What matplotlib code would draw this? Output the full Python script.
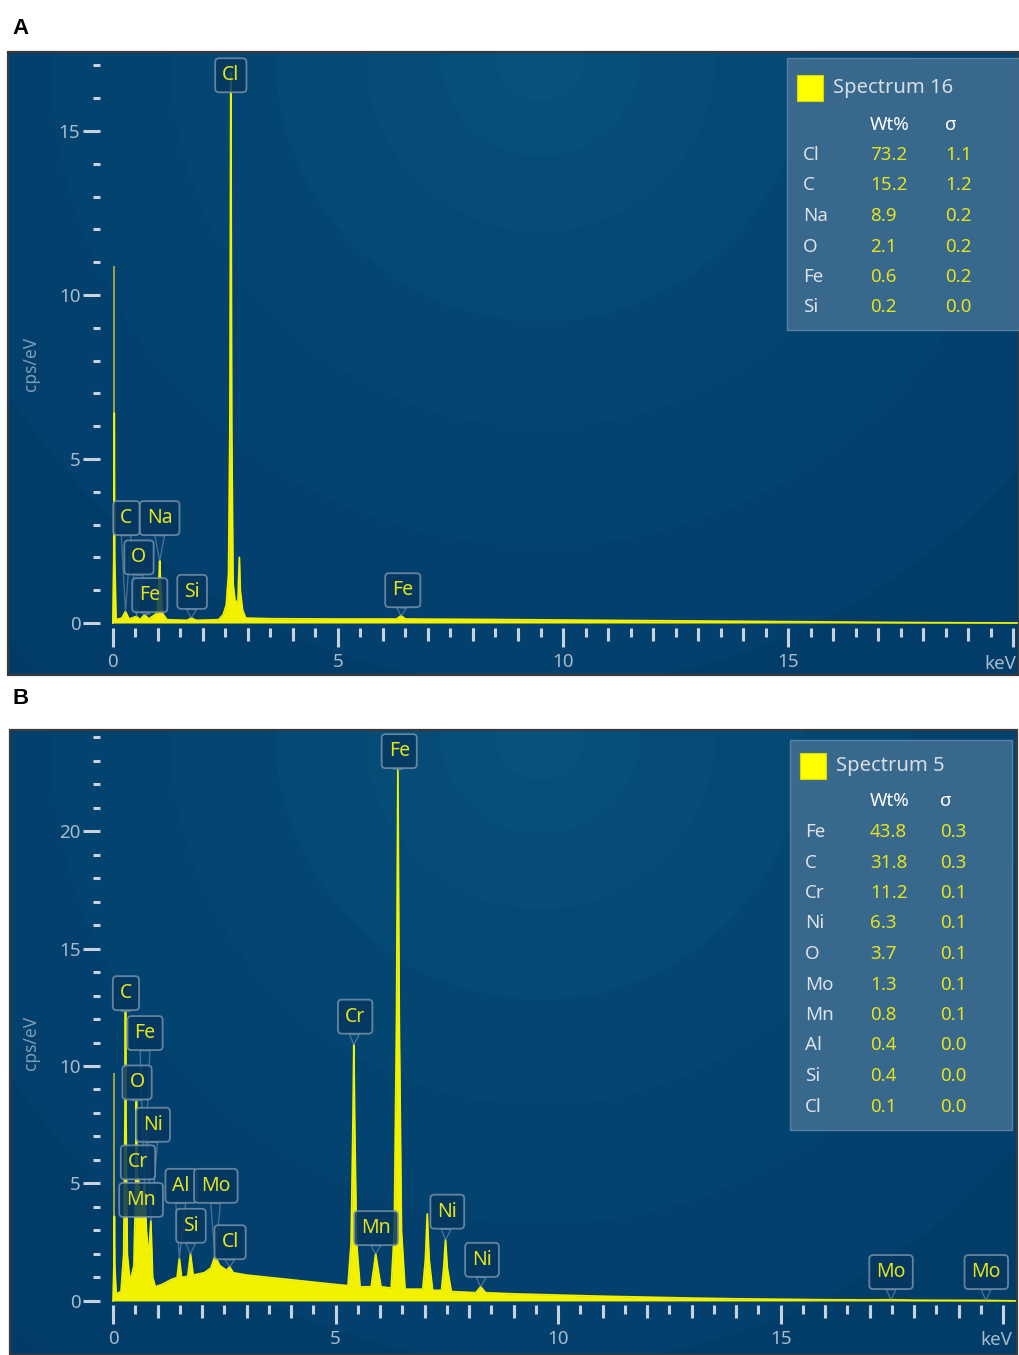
"""
EDS spectra of the two samples (panel A: Spectrum 16, panel B: Spectrum 5).
"""

import numpy as np
import matplotlib
matplotlib.use("Agg")  # no display
import matplotlib.pyplot as plt
from matplotlib.colors import to_rgb
from matplotlib.patches import Rectangle
from matplotlib.ticker import FixedLocator

plt.rcParams["font.family"] = ["Noto Sans", "DejaVu Sans"]

FIG_W, FIG_H = 1019, 1355

# ---------------------------------------------------------------------------
# Panel A data (Spectrum 16)
# ---------------------------------------------------------------------------
spec_a_kev = [0.00, 0.02, 0.03, 0.04, 0.07, 0.20, 0.28, 0.36, 0.525, 0.60,
              0.705, 0.80, 0.98, 1.02, 1.04, 1.06, 1.10, 1.20, 1.65, 1.74,
              1.85, 2.35, 2.45, 2.52, 2.57, 2.60, 2.62, 2.64, 2.67, 2.72,
              2.78, 2.81, 2.83, 2.88, 2.95, 3.50, 5.00, 6.30, 6.40, 6.50,
              8.00, 10.0, 12.0, 14.0, 16.0, 18.0, 20.2]
spec_a_cps = [0.00, 2.00, 6.40, 2.00, 0.10, 0.15, 0.35, 0.12, 0.20, 0.10,
              0.25, 0.12, 0.30, 1.20, 1.90, 1.20, 0.30, 0.10, 0.08, 0.15,
              0.08, 0.10, 0.25, 0.55, 1.50, 6.00, 16.8, 6.00, 1.20, 0.60,
              0.70, 2.00, 1.00, 0.40, 0.15, 0.13, 0.12, 0.12, 0.22, 0.12,
              0.11, 0.09, 0.07, 0.05, 0.03, 0.01, 0.00]
noise_a_kev = 0.03
noise_a_cps = 10.9

labels_a_el = ["Cl", "C", "Na", "O", "Fe", "Si", "Fe"]
labels_a_kev = [2.62, 0.28, 1.04, 0.525, 0.705, 1.74, 6.40]   # line energy
labels_a_x = [2.62, 0.30, 1.04, 0.58, 0.82, 1.76, 6.44]        # box centre
labels_a_y = [16.7, 3.2, 3.2, 2.0, 0.85, 0.95, 1.0]

quant_a_title = "Spectrum 16"
quant_a_el = ["Cl", "C", "Na", "O", "Fe", "Si"]
quant_a_wt = ["73.2", "15.2", "8.9", "2.1", "0.6", "0.2"]
quant_a_sigma = ["1.1", "1.2", "0.2", "0.2", "0.2", "0.0"]

# ---------------------------------------------------------------------------
# Panel B data (Spectrum 5)
# ---------------------------------------------------------------------------
spec_b_kev = [0.00, 0.02, 0.03, 0.04, 0.07, 0.18, 0.24, 0.27, 0.28, 0.29,
              0.32, 0.38, 0.47, 0.51, 0.525, 0.545, 0.57, 0.60, 0.64, 0.67,
              0.705, 0.75, 0.80, 0.85, 0.89, 0.95, 1.10, 1.30, 1.44, 1.49,
              1.54, 1.68, 1.74, 1.80, 2.05, 2.20, 2.29, 2.40, 2.55, 2.62,
              2.70, 3.00, 3.50, 4.00, 4.50, 5.00, 5.28, 5.35, 5.39, 5.41,
              5.43, 5.47, 5.55, 5.80, 5.86, 5.90, 5.95, 6.02, 6.25, 6.32,
              6.37, 6.40, 6.43, 6.48, 6.56, 6.96, 7.02, 7.06, 7.10, 7.18,
              7.38, 7.43, 7.47, 7.51, 7.60, 8.15, 8.26, 8.37, 9.00, 10.0,
              11.0, 12.0, 13.0, 14.0, 15.0, 16.0, 17.0, 17.48, 18.0, 19.6,
              20.3]
spec_b_cps = [0.00, 1.50, 3.60, 1.50, 0.30, 0.40, 2.00, 8.00, 12.3, 8.00,
              2.00, 0.80, 1.50, 5.00, 8.50, 4.50, 5.20, 3.50, 4.40, 3.80,
              5.00, 3.00, 1.80, 3.40, 1.00, 0.60, 0.70, 0.90, 1.00, 1.80,
              1.00, 1.05, 2.00, 1.10, 1.20, 1.40, 1.90, 1.50, 1.30, 1.45,
              1.20, 1.10, 1.00, 0.90, 0.80, 0.70, 0.65, 2.50, 7.50, 10.9,
              7.50, 2.50, 0.60, 0.60, 1.40, 2.00, 1.40, 0.60, 0.55, 3.00,
              12.0, 22.6, 12.0, 3.00, 0.50, 0.50, 1.80, 3.70, 1.80, 0.45,
              0.45, 1.40, 2.60, 1.40, 0.40, 0.35, 0.60, 0.35, 0.30, 0.25,
              0.20, 0.16, 0.12, 0.09, 0.07, 0.05, 0.04, 0.05, 0.03, 0.02,
              0.00]
noise_b_kev = 0.03
noise_b_cps = 9.7

labels_b_el = ["Fe", "C", "Fe", "O", "Ni", "Cr", "Mn", "Al", "Mo", "Si",
               "Cl", "Cr", "Mn", "Ni", "Ni", "Mo", "Mo"]
labels_b_kev = [6.40, 0.28, 0.705, 0.525, 0.85, 0.57, 0.64, 1.49, 2.29, 1.74,
                2.62, 5.41, 5.90, 7.47, 8.26, 17.48, 19.61]
labels_b_x = [6.43, 0.29, 0.72, 0.54, 0.90, 0.56, 0.63, 1.53, 2.31, 1.75,
              2.63, 5.44, 5.91, 7.51, 8.29, 17.48, 19.62]
labels_b_y = [23.4, 13.1, 11.4, 9.3, 7.5, 5.9, 4.3, 4.9, 4.9, 3.2,
              2.5, 12.1, 3.1, 3.8, 1.75, 1.23, 1.23]

quant_b_title = "Spectrum 5"
quant_b_el = ["Fe", "C", "Cr", "Ni", "O", "Mo", "Mn", "Al", "Si", "Cl"]
quant_b_wt = ["43.8", "31.8", "11.2", "6.3", "3.7", "1.3", "0.8", "0.4", "0.4", "0.1"]
quant_b_sigma = ["0.3", "0.3", "0.1", "0.1", "0.1", "0.1", "0.1", "0.0", "0.0", "0.0"]

# ---------------------------------------------------------------------------
# Styling
# ---------------------------------------------------------------------------
YELLOW = "#f2f200"
TEXT_YELLOW = "#e4e41c"
TICK_COLOR = "#c6d3de"
TICKLABEL_COLOR = "#a7bbcb"
BG_INNER = "#07527d"
BG_OUTER = "#023b68"


def fx(px):
    return px / FIG_W


def fy(py):
    return 1 - py / FIG_H


def radial_background(ax, w_px, h_px, cx, cy, xlim, ylim):
    """Faint banded radial glow like the instrument software background."""
    yy, xx = np.mgrid[0:h_px, 0:w_px]
    r = np.hypot(xx - cx, yy - cy)
    radii = [45, 100, 175, 265, 370, 490, 630, 790]
    t = np.digitize(r, radii) / len(radii)
    inner = np.array(to_rgb(BG_INNER))
    outer = np.array(to_rgb(BG_OUTER))
    img = inner[None, None, :] * (1 - t[..., None]) + outer[None, None, :] * t[..., None]
    ax.imshow(img, extent=(xlim[0], xlim[1], ylim[0], ylim[1]), aspect="auto",
              zorder=0, interpolation="bilinear")


def draw_panel(fig, box_px, xlim, ylim, ystep_max, kev, cps, noise, labels, quant,
               legend_px, kev_px, letter, letter_py):
    x0, y0, x1, y1 = box_px
    ax = fig.add_axes([fx(x0), fy(y1), fx(x1) - fx(x0), (y1 - y0) / FIG_H])
    w_px, h_px = x1 - x0, y1 - y0
    radial_background(ax, w_px, h_px, 540 - x0, 4, xlim, ylim)
    ax.set_xlim(*xlim)
    ax.set_ylim(*ylim)

    # spectrum
    ax.vlines(noise[0], 0, noise[1], color="#a3a33c", lw=1.4, zorder=2)
    ax.fill_between(kev, cps, 0, color=YELLOW, lw=0, zorder=3)
    ax.plot(kev, cps, color=YELLOW, lw=1.3, zorder=3)

    # peak labels with leader wedges
    els, lkev, lx, ly = labels
    for el, e, x, y in zip(els, lkev, lx, ly):
        top = np.interp(e, kev, cps)
        ax.annotate(el, xy=(e, top), xytext=(x, y), ha="center", va="center",
                    fontsize=14, color=TEXT_YELLOW, zorder=5,
                    bbox=dict(boxstyle="round,pad=0.36,rounding_size=0.2",
                              fc="#06375f", ec="#7590a8", lw=1.3, alpha=0.85),
                    arrowprops=dict(arrowstyle="wedge,tail_width=0.5", fc="none",
                                    ec="#7590a8", lw=0.9, alpha=0.65,
                                    shrinkA=0, shrinkB=0))

    # ticks hang off hidden spines at x = -0.29 keV and y = -0.16 cps/eV
    ax.spines["left"].set_position(("data", -0.29))
    ax.spines["bottom"].set_position(("data", -0.16))
    for s in ("left", "bottom"):
        ax.spines[s].set_color("none")
    for s in ("top", "right"):
        ax.spines[s].set_visible(False)

    ax.yaxis.set_major_locator(FixedLocator(np.arange(0, ystep_max + 1, 5)))
    ax.yaxis.set_minor_locator(FixedLocator(np.arange(0, ystep_max + 1, 1)))
    ax.tick_params(axis="y", which="major", direction="out", length=12, width=2.2,
                   color=TICK_COLOR, labelsize=13.5, labelcolor=TICKLABEL_COLOR, pad=2)
    ax.tick_params(axis="y", which="minor", direction="out", length=5, width=2.2,
                   color=TICK_COLOR)

    ax.xaxis.set_major_locator(FixedLocator([0, 5, 10, 15, 20]))
    ax.xaxis.set_minor_locator(FixedLocator(np.arange(0, 20.01, 0.5)))
    ax.set_xticklabels(["0", "5", "10", "15", ""])
    ax.tick_params(axis="x", which="major", direction="out", length=14, width=2.2,
                   color=TICK_COLOR, labelsize=13.5, labelcolor=TICKLABEL_COLOR, pad=4)
    ax.tick_params(axis="x", which="minor", direction="out", length=6.5, width=2.2,
                   color=TICK_COLOR)

    # integer keV ticks are a bit longer than the half-keV ones
    loc = (-0.16 - ylim[0]) / (ylim[1] - ylim[0])
    sec = ax.secondary_xaxis(loc)
    sec.set_xticks([v for v in range(1, 20) if v % 5])
    sec.set_xticklabels([])
    sec.tick_params(axis="x", direction="out", length=9.5, width=2.2, color=TICK_COLOR)
    for s in sec.spines.values():
        s.set_visible(False)

    ax.set_ylabel("cps/eV", fontsize=12.5, color="#7d9cb5")
    ax.yaxis.set_label_coords((40 - x0) / w_px, 0.5)

    # frame
    ax.add_patch(Rectangle((0, 0), 1, 1, transform=ax.transAxes, fill=False,
                           ec="#3a3a3a", lw=1.6, zorder=6, clip_on=False))

    # keV unit at the end of the axis
    fig.text(fx(kev_px[0]), fy(kev_px[1]), "keV", fontsize=13.5,
             color=TICKLABEL_COLOR, ha="right", va="center")

    # quantification table
    title, q_el, q_wt, q_sig = quant
    lx0, ly0, lx1, ly1, name_x, wt_x, sig_x, title_y, head_y, row0_y, row_dy = legend_px
    fig.add_artist(Rectangle((fx(lx0), fy(ly1)), fx(lx1) - fx(lx0), (ly1 - ly0) / FIG_H,
                             transform=fig.transFigure, fc="#3d6b8f", ec="#5b84a4",
                             lw=1.0, alpha=0.95, zorder=7))
    fig.add_artist(Rectangle((fx(lx0 + 10), fy(title_y + 13)), 26 / FIG_W, 26 / FIG_H,
                             transform=fig.transFigure, fc="#ffff00", ec="#d8d800",
                             lw=0.8, zorder=8))
    fig.text(fx(lx0 + 46), fy(title_y), title, fontsize=14.5, color="#d6dee6",
             ha="left", va="center", zorder=8)
    fig.text(fx(wt_x), fy(head_y), "Wt%", fontsize=13.5, color="white",
             fontweight="bold", ha="left", va="center", zorder=8)
    fig.text(fx(sig_x), fy(head_y), "σ", fontsize=13.5, color="white",
             fontweight="bold", ha="left", va="center", zorder=8)
    for i, (el, wt, sg) in enumerate(zip(q_el, q_wt, q_sig)):
        yy = row0_y + i * row_dy
        fig.text(fx(name_x), fy(yy), el, fontsize=13.5, color="#dbe2e9",
                 ha="left", va="center", zorder=8)
        fig.text(fx(wt_x), fy(yy), wt, fontsize=13.5, color=TEXT_YELLOW,
                 ha="left", va="center", zorder=8)
        fig.text(fx(sig_x), fy(yy), sg, fontsize=13.5, color=TEXT_YELLOW,
                 ha="left", va="center", zorder=8)

    fig.text(fx(12), fy(letter_py), letter, fontsize=16, fontweight="bold",
             family="Liberation Sans", ha="left", va="center")
    return ax


fig = plt.figure(figsize=(FIG_W / 100, FIG_H / 100), dpi=100)
fig.patch.set_facecolor("white")

draw_panel(fig, (8, 52, 1019, 675), (-2.33, 20.13), (-1.585, 17.41), 17,
           spec_a_kev, spec_a_cps, (noise_a_kev, noise_a_cps),
           (labels_a_el, labels_a_kev, labels_a_x, labels_a_y),
           (quant_a_title, quant_a_el, quant_a_wt, quant_a_sigma),
           (787, 58, 1030, 330, 803, 870, 945, 88, 125, 155, 30.5),
           (1016, 664), "A", 28)

draw_panel(fig, (10, 730, 1017, 1355), (-2.315, 20.31), (-2.30, 24.30), 24,
           spec_b_kev, spec_b_cps, (noise_b_kev, noise_b_cps),
           (labels_b_el, labels_b_kev, labels_b_x, labels_b_y),
           (quant_b_title, quant_b_el, quant_b_wt, quant_b_sigma),
           (790, 740, 1012, 1130, 805, 870, 940, 766, 801, 832, 30.5),
           (1012, 1340), "B", 698)

fig.savefig("out.png", dpi=100)
